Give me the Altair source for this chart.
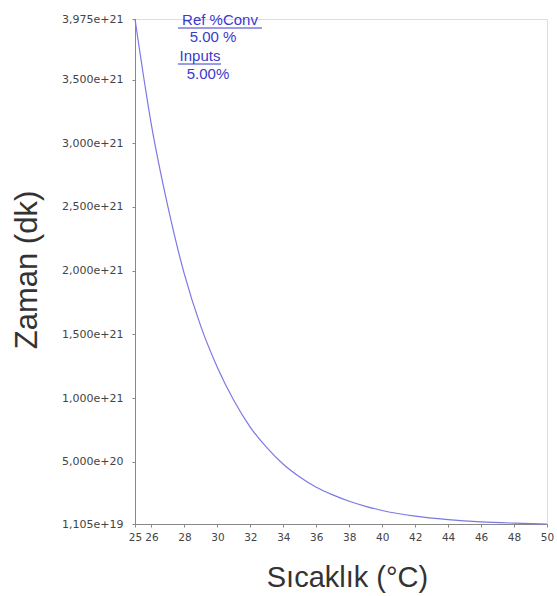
import altair as alt
import pandas as pd

# Temperature (°C) and time (min)
temps = [25, 26, 27, 28, 29, 30, 31, 32, 33, 34, 35, 36, 37, 38, 39, 40, 42, 44, 46, 48, 50]
times = [3.975e21, 3.14e21, 2.50e21, 1.97e21, 1.56e21, 1.24e21, 9.8e20, 7.7e20, 6.1e20,
         4.8e20, 3.8e20, 3.0e20, 2.4e20, 1.9e20, 1.5e20, 1.17e20, 7.3e19, 4.6e19,
         2.8e19, 1.8e19, 1.105e19]

x_ticks = [25, 26, 28, 30, 32, 34, 36, 38, 40, 42, 44, 46, 48, 50]
y_ticks = [1.105e19, 5e20, 1e21, 1.5e21, 2e21, 2.5e21, 3e21, 3.5e21, 3.975e21]

ann_text = ["Ref %Conv", "5.00 %", "Inputs", "5.00%"]

df = pd.DataFrame({"T": temps, "t": times})

W, H = 412, 505
FONT = "Liberation Sans"
LFONT = "DejaVu Sans"
BLUE = "#3a3acc"

line = alt.Chart(df).mark_line(color="#7b78e6", strokeWidth=1.2, interpolate="monotone").encode(
    x=alt.X("T:Q", scale=alt.Scale(domain=[25, 50], nice=False, zero=False),
            axis=alt.Axis(values=x_ticks, title="Sıcaklık (°C)", grid=False,
                          labelFont=LFONT, labelFontSize=10.5, labelColor="#444",
                          labelOverlap=False, labelFlush=False, labelBound=False,
                          tickSize=3, tickColor="#888", domainColor="#888", labelPadding=5,
                          titleFont=FONT, titleFontSize=29, titleFontWeight="normal",
                          titleColor="#333", titleX=212, titleY=53, titleBaseline="middle",
                          titleAnchor="middle", titleAlign="center")),
    y=alt.Y("t:Q", scale=alt.Scale(domain=[1.105e19, 3.975e21], nice=False, zero=False),
            axis=alt.Axis(values=y_ticks, title="Zaman (dk)", grid=False,
                          labelExpr="replace(format(datum.value, '.3e'), '.', ',')",
                          labelFont=LFONT, labelFontSize=11, labelColor="#444",
                          labelOverlap=False, labelFlush=False, labelBound=False,
                          tickSize=3, tickColor="#888", domainColor="#888", labelPadding=9,
                          titleFont=FONT, titleFontSize=31, titleFontWeight="normal",
                          titleColor="#333", titleX=-108, titleY=H / 2 - 2, titleAngle=-90,
                          titleBaseline="middle", titleAlign="center")),
)

ann_df = pd.DataFrame({"label": ann_text,
                       "px": [85, 78, 65, 73],
                       "py": [1, 18, 37, 55]})

ann = alt.Chart(ann_df).mark_text(font=FONT, fontSize=15, color=BLUE, baseline="middle").encode(
    x=alt.X("px:Q", scale=None), y=alt.Y("py:Q", scale=None), text="label:N"
)

u1 = alt.Chart(pd.DataFrame({"a": [0]})).mark_rule(color=BLUE, strokeWidth=1).encode(
    x=alt.value(43), x2=alt.value(127), y=alt.value(9))
u2 = alt.Chart(pd.DataFrame({"a": [0]})).mark_rule(color=BLUE, strokeWidth=1).encode(
    x=alt.value(43), x2=alt.value(86), y=alt.value(45))

chart = alt.layer(line, ann, u1, u2).properties(
    width=W, height=H,
    autosize=alt.AutoSizeParams(type="none"),
    padding={"left": 135, "top": 19, "right": 10, "bottom": 72},
).configure_view(stroke=None).configure(background="white")

chart.save("out.html", embed_options={"renderer": "svg", "actions": False})
